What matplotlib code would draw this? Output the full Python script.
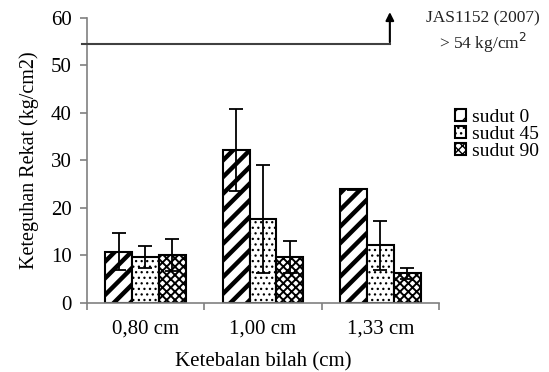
import matplotlib
matplotlib.use("Agg")
import numpy as np
import matplotlib.pyplot as plt

plt.rcParams['font.family'] = ['Liberation Serif', 'DejaVu Serif']

categories = ["0,80 cm", "1,00 cm", "1,33 cm"]
series = ["sudut 0", "sudut 45", "sudut 90"]
values = [
    [10.8, 32.2, 23.9],   # sudut 0
    [9.7, 17.6, 12.1],    # sudut 45
    [10.0, 9.7, 6.2],     # sudut 90
]
errors = [
    [3.8, 8.7, 0.1],
    [2.3, 11.4, 5.2],
    [3.4, 3.4, 1.2],
]
standard_value = 54.5
standard_label = "JAS1152 (2007)\n> 54 kg/cm$^2$"

hatches = ["//", "...", "xxxx"]
hatch_lw = [3.2, 0.9, 1.4]
gray = "#808080"

fig = plt.figure(figsize=(5.49, 3.72), dpi=100)
ax = fig.add_axes([0.158, 0.186, 0.642, 0.766])

x = np.arange(len(categories)) + 0.5
w = 0.228
for i, name in enumerate(series):
    bars = ax.bar(x + (i - 1) * w, values[i], w, color="white", edgecolor="black",
                  linewidth=1.5, hatch=hatches[i], label=name, zorder=2)
    for b in bars:
        b.set_hatch_linewidth(hatch_lw[i])
    ax.errorbar(x + (i - 1) * w, values[i], yerr=errors[i], fmt="none",
                ecolor="black", elinewidth=1.3, capsize=5, capthick=1.3, zorder=3)

ax.set_xlim(0, 3)
ax.set_ylim(0, 60)
ax.set_yticks(range(0, 61, 10))
ax.set_xticks([0, 1, 2, 3])
ax.set_xticklabels([])
ax.set_xticks(x, minor=True)
ax.set_xticklabels(categories, minor=True)
ax.tick_params(axis="x", which="minor", length=0, pad=12, labelsize=15)
ax.tick_params(axis="x", which="major", length=5, color=gray, width=1.2)
ax.tick_params(axis="y", length=5, color=gray, width=1.2, labelsize=15, pad=6)

for s in ["top", "right"]:
    ax.spines[s].set_visible(False)
for s in ["left", "bottom"]:
    ax.spines[s].set_color(gray)
    ax.spines[s].set_linewidth(1.2)

# standard line with arrow
ax.plot([-0.04, 2.58], [standard_value, standard_value], color="#404040", lw=1.5,
        clip_on=False, zorder=4)
ax.annotate("", xy=(2.58, 61.8), xytext=(2.58, standard_value - 0.2),
            arrowprops=dict(arrowstyle="-|>", color="black", lw=1.5, mutation_scale=12),
            annotation_clip=False)
fig.text(0.88, 0.912, standard_label, ha="center", va="center", fontsize=12.5,
         linespacing=1.2, color="#222222")

ax.set_xlabel("Ketebalan bilah (cm)", fontsize=15, labelpad=10)
ax.set_ylabel("Keteguhan Rekat (kg/cm2)", fontsize=14.5, labelpad=8)

fig.legend(loc="upper left", bbox_to_anchor=(0.815, 0.728), frameon=False,
           fontsize=14, handlelength=0.55, handleheight=0.55, handletextpad=0.3,
           labelspacing=0.0, borderaxespad=0)

fig.savefig("out.png", dpi=100)
